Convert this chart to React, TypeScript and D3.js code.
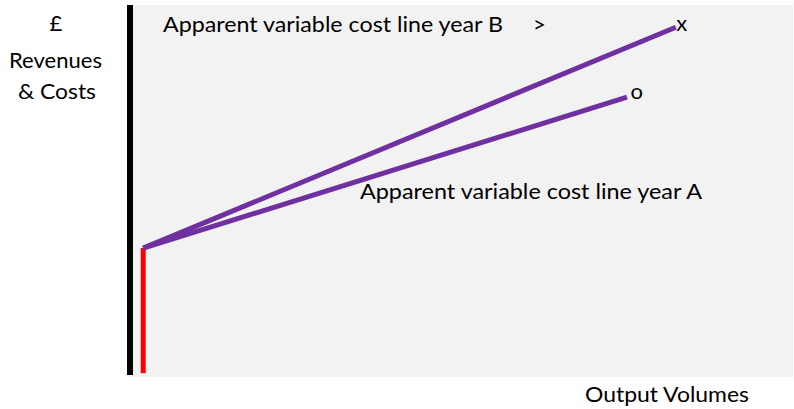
import React, { useEffect } from "react";
import * as d3 from "d3";

// ---- data ----
const fixedCostPoint = [2, 34.3]; // volume, £ : top of red fixed-cost line
const fixedCostBase = [2, 0.5];
const yearBEnd = [82.7, 94];
const yearAEnd = [75.3, 75.1];
const seriesNames = ["Apparent variable cost line year B", "Apparent variable cost line year A"];
const endMarkers = ["x", "o"];
const yAxisLabel = ["£", "Revenues", "& Costs"];
const xAxisLabel = "Output Volumes";
const arrowLabel = ">";

const W = 794;
const H = 409;
const FONT = "Lato, 'Open Sans', sans-serif";

export default function App() {
  useEffect(() => {
    document.body.style.margin = "0";
  }, []);

  const x = d3.scaleLinear().domain([0, 100]).range([130, 790]);
  const y = d3.scaleLinear().domain([0, 100]).range([375, 5]);
  const line = d3
    .line<number[]>()
    .x((d) => x(d[0]))
    .y((d) => y(d[1]));

  const lineB = [fixedCostPoint, yearBEnd];
  const lineA = [fixedCostPoint, yearAEnd];
  const redLine = [fixedCostBase, fixedCostPoint];

  return (
    <svg width={W} height={H} style={{ position: "absolute", left: 0, top: 0, display: "block" }}>
      <rect x={127} y={5} width={666} height={372} fill="#F2F2F2" />
      {/* y axis */}
      <line x1={x(0)} x2={x(0)} y1={y(100)} y2={y(0)} stroke="#000" strokeWidth={6} />
      {/* fixed cost (red) */}
      <path d={line(redLine) || ""} stroke="#FF0000" strokeWidth={5} fill="none" />
      {/* variable cost lines */}
      <path d={line(lineB) || ""} stroke="#7030A0" strokeWidth={5} fill="none" />
      <path d={line(lineA) || ""} stroke="#7030A0" strokeWidth={5} fill="none" />

      <g fontFamily={FONT} fontSize={22} fill="#000">
        <text x={56} y={31} textAnchor="middle">{yAxisLabel[0]}</text>
        <text x={55.5} y={68} textAnchor="middle" textLength={93} lengthAdjust="spacingAndGlyphs">{yAxisLabel[1]}</text>
        <text x={57} y={99} textAnchor="middle" textLength={78} lengthAdjust="spacingAndGlyphs">{yAxisLabel[2]}</text>

        <text x={163} y={32} textLength={340} lengthAdjust="spacingAndGlyphs">{seriesNames[0]}</text>
        <text x={533} y={32}>{arrowLabel}</text>
        <text x={360} y={199} textLength={342} lengthAdjust="spacingAndGlyphs">{seriesNames[1]}</text>

        <text x={x(yearBEnd[0]) + 0.5} y={y(yearBEnd[1]) + 4}>{endMarkers[0]}</text>
        <text x={x(yearAEnd[0]) + 3.5} y={y(yearAEnd[1]) + 2}>{endMarkers[1]}</text>

        <text x={585} y={402} textLength={164} lengthAdjust="spacingAndGlyphs">{xAxisLabel}</text>
      </g>
    </svg>
  );
}
